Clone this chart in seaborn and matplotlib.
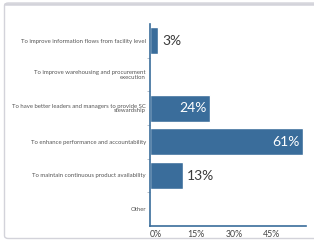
import pandas as pd
import numpy as np
import matplotlib
matplotlib.use('Agg')
import matplotlib.pyplot as plt
import seaborn as sns
from matplotlib.patches import FancyBboxPatch

categories = ['To improve information flows from facility level',
              'To improve warehousing and procurement\nexecution',
              'To have better leaders and managers to provide SC\nstewardship',
              'To enhance performance and accountability',
              'To maintain continuous product availability',
              'Other']
values = [3, 0, 24, 61, 13, 0]
labels = ['3%', '', '24%', '61%', '13%', '']
xticks = [0, 15, 30, 45]
xticklabels = ['0%', '15%', '30%', '45%']

df = pd.DataFrame({'reason': categories, 'pct': values})

sns.set_style('white')
plt.rcParams['font.family'] = ['Lato', 'DejaVu Sans']

fig = plt.figure(figsize=(3.14, 2.41), dpi=100)

# card frame, cropped on the right
card = FancyBboxPatch((4.5 / 314, 2.5 / 241), 330 / 314, 235.5 / 241,
                      boxstyle='round,pad=0,rounding_size=0.012',
                      transform=fig.transFigure, fill=False,
                      edgecolor='#d3d3da', linewidth=1.0)
fig.patches.append(card)
fig.add_artist(plt.Line2D([5 / 314, 1], [1 - 4 / 241, 1 - 4 / 241],
                          color='#d3d3da', linewidth=1.8, transform=fig.transFigure))

ax = fig.add_axes([150 / 314, 15 / 241, 156 / 314, 202 / 241])
bar_color = '#3a6d9b'
sns.barplot(data=df, y='reason', x='pct', orient='h', color=bar_color,
            width=0.8, saturation=1, ax=ax)

ax.set_xlim(0, 62.1)
ax.set_ylim(5.5, -0.5)
ax.set_xlabel('')
ax.set_ylabel('')

for i, (v, lab) in enumerate(zip(values, labels)):
    if not lab:
        continue
    if v > 20:
        ax.text(v - 1.6, i, lab, ha='right', va='center', color='white',
                fontsize=10)
    else:
        ax.text(v + 1.8, i, lab, ha='left', va='center', color='#3a3a3a',
                fontsize=10)

ax.set_xticks(xticks)
ax.set_xticklabels(xticklabels, ha='left', fontsize=6.3, color='#444444')
ax.tick_params(axis='x', length=0, pad=3)
ax.set_yticks(range(len(categories)))
ax.set_yticklabels(categories, fontsize=4.35, color='#555555', linespacing=0.95)
ax.tick_params(axis='y', length=0, pad=3)
ax.set_yticks(np.arange(0.5, 5, 1), minor=True)
ax.tick_params(axis='y', which='minor', length=2, width=0.5, color='#9aa7b5', left=True)

for s in ['top', 'right']:
    ax.spines[s].set_visible(False)
for s in ['left', 'bottom']:
    ax.spines[s].set_color(bar_color)
    ax.spines[s].set_linewidth(1.2)

fig.savefig('out.png', dpi=100)
